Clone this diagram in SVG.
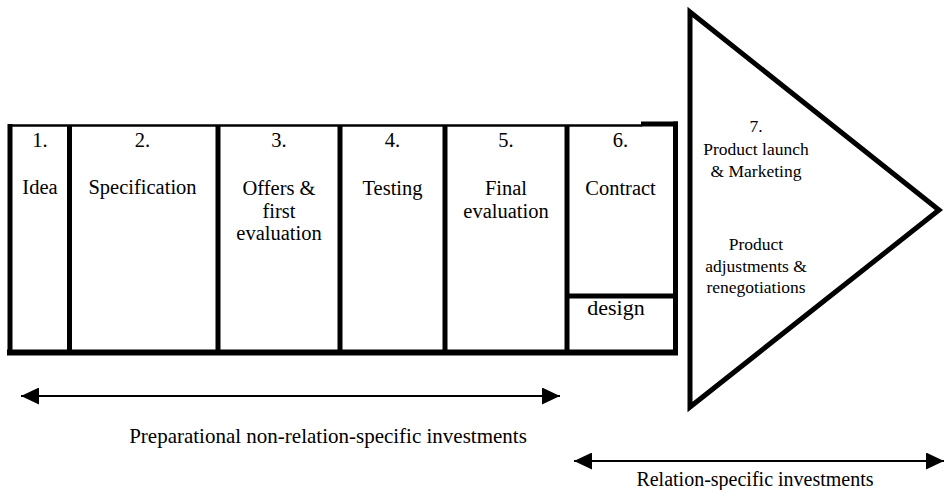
<svg xmlns="http://www.w3.org/2000/svg" width="944" height="490" viewBox="0 0 944 490">
<style>
  .t { font-family: "Liberation Serif", "Times New Roman", serif; font-size: 20.5px; fill: #000; text-anchor: middle; }
  .s { font-family: "Liberation Serif", "Times New Roman", serif; font-size: 17.5px; fill: #000; text-anchor: middle; }
  .thick { stroke: #000; stroke-width: 5; fill: none; }
  .thin { stroke: #000; stroke-width: 2.5; fill: none; }
  .arr { stroke: #000; stroke-width: 2; fill: none; }
</style>
<defs>
  <marker id="ah" viewBox="0 0 18 17" refX="18" refY="8.5" markerWidth="18" markerHeight="17" markerUnits="userSpaceOnUse" orient="auto-start-reverse">
    <path d="M0,0 L18,8.5 L0,17 Z" fill="#000"/>
  </marker>
</defs>
<rect width="944" height="490" fill="#fff"/>
<g id="frame">
  <line class="thin" x1="8" y1="125.5" x2="642" y2="125.5"/>
  <line class="thick" x1="641" y1="124" x2="678" y2="124"/>
  <line x1="7" y1="352.5" x2="678" y2="352.5" stroke="#000" stroke-width="6"/>
  <line class="thick" x1="10" y1="124" x2="10" y2="355"/>
  <line class="thick" x1="675.5" y1="121.5" x2="675.5" y2="355"/>
</g>
<g id="step1">
  <text class="t" x="40" y="147">1.</text>
  <text class="t" x="40" y="194">Idea</text>
</g>
<g id="step2">
  <line class="thick" x1="69.5" y1="125" x2="69.5" y2="352"/>
  <text class="t" x="142.5" y="147">2.</text>
  <text class="t" x="142.5" y="194">Specification</text>
</g>
<g id="step3">
  <line class="thick" x1="218" y1="125" x2="218" y2="352"/>
  <text class="t" x="279" y="147">3.</text>
  <text class="t" x="279" y="195">Offers &amp;</text>
  <text class="t" x="279" y="217.5">first</text>
  <text class="t" x="279" y="240">evaluation</text>
</g>
<g id="step4">
  <line class="thick" x1="340" y1="125" x2="340" y2="352"/>
  <text class="t" x="392.5" y="147">4.</text>
  <text class="t" x="392.5" y="195">Testing</text>
</g>
<g id="step5">
  <line class="thick" x1="445" y1="125" x2="445" y2="352"/>
  <text class="t" x="506" y="147">5.</text>
  <text class="t" x="506" y="195">Final</text>
  <text class="t" x="506" y="217.5">evaluation</text>
</g>
<g id="step6">
  <line class="thick" x1="567" y1="125" x2="567" y2="352"/>
  <line class="thick" x1="567" y1="296" x2="675" y2="296"/>
  <text class="t" x="620.5" y="147">6.</text>
  <text class="t" x="620.5" y="195">Contract</text>
  <text class="t" x="616" y="315" style="font-size:22px">design</text>
</g>
<g id="step7">
  <polygon class="thick" points="690,12 939,210 690,407"/>
  <text class="s" x="756" y="132">7.</text>
  <text class="s" x="756" y="155">Product launch</text>
  <text class="s" x="756" y="177">&amp; Marketing</text>
  <text class="s" x="756" y="250">Product</text>
  <text class="s" x="756" y="271.5">adjustments &amp;</text>
  <text class="s" x="756" y="293">renegotiations</text>
</g>
<g id="connectors">
  <line class="arr" x1="21" y1="396" x2="560" y2="396" marker-start="url(#ah)" marker-end="url(#ah)"/>
  <line class="arr" x1="574" y1="461" x2="944" y2="461" marker-start="url(#ah)" marker-end="url(#ah)"/>
</g>
<g id="labels">
  <text class="t" x="328" y="443" style="font-size:21px">Preparational non-relation-specific investments</text>
  <text class="t" x="755" y="486" style="font-size:20px">Relation-specific investments</text>
</g>
</svg>
